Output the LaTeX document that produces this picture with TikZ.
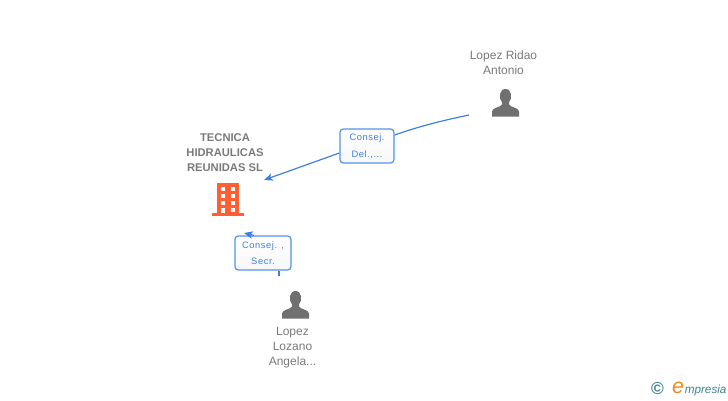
\documentclass[tikz,border=0pt]{standalone}
\usepackage{fontspec}
\setmainfont{Liberation Sans}
\newfontfamily\boxfont[LetterSpace=6]{Liberation Sans}
\usepackage{tikz}
\usetikzlibrary{%
  arrows.meta%
  ,calc%
  ,positioning%
}
\definecolor{linkblue}{HTML}{3F80DE}
\definecolor{boxblue}{HTML}{5593E8}
\definecolor{textgray}{HTML}{7A7A7A}
\definecolor{icongray}{HTML}{707070}
\definecolor{brickred}{HTML}{FF5F33}
\definecolor{logoteal}{HTML}{3E8296}
\definecolor{logoorange}{HTML}{F08A1E}
\tikzset{%
  link/.style={color=linkblue,line width=.9pt},
  tip/.style={-{Stealth[length=6.5pt,width=5.5pt,inset=1.5pt]}},
  role/.style={draw=boxblue,line width=.95pt,rounded corners=2.5pt,top color=white,bottom color=black!3,
    text=linkblue,font=\boxfont\fontsize{7}{12.5}\selectfont,align=center,inner sep=0pt},
  who/.style={text=textgray,font=\fontsize{9}{11.25}\selectfont,align=center,inner sep=0pt},
  firm/.style={who,font=\bfseries\fontsize{8.4}{11.25}\selectfont},
  person/.pic={
    \fill[icongray] (-13.5,14) -- (-13.5,9) .. controls (-13.5,5) and (-5,5) .. (-3.5,2)
      -- (-3.5,0) .. controls (-7,-4) and (-6.5,-13.5) .. (0,-13.5)
      .. controls (6.5,-13.5) and (7,-4) .. (3.5,0) -- (3.5,2)
      .. controls (5,5) and (13.5,5) .. (13.5,9) -- (13.5,14) -- cycle;
  },
  building/.pic={
    \fill[brickred] (-11,-16.5) rectangle (11,15);
    \fill[brickred] (-16,13) rectangle (16,16);
    \foreach \y in {-13,-6,1}{
      \fill[white] (-7,\y) rectangle (-3,\y+4);
      \fill[white] (3,\y) rectangle (7,\y+4);
    }
    \fill[white] (-7,8) rectangle (-3,13);
    \fill[white] (3,8) rectangle (7,12);
  },
}
\begin{document}
\begin{tikzpicture}[x=.75pt,y=-.75pt]
  \useasboundingbox (0,0) rectangle (728,400);
  \coordinate (ridaoend) at (469,115);
  \coordinate (firmend) at (264,180);
  \coordinate (lozanoend) at (279,276);
  \coordinate (secrend) at (244,233);
  \node[role,minimum width=40.5pt,minimum height=25.5pt] (delbox) at (367,146) {Consej.\\Del.,...};
  \node[role,minimum width=42pt,minimum height=25.5pt] (secrbox) at (263,253) {Consej. ,\\Secr.};
  \draw[link] (ridaoend) .. controls (445,120) and (420,126) .. ($(delbox.east)+(0,-11)$);
  \draw[link,tip] ($(delbox.west)+(0,7)$) -- (firmend);
  \draw[link] (lozanoend) -- (lozanoend |- secrbox.south);
  \draw[link,tip] ($(secrbox.north)+(-9,0)$) -- (secrend);
  %% people and the firm
  \node[who] (ridaoname) at (503.5,63) {Lopez Ridao\\Antonio};
  \pic at (505.5,102.5) {person};
  \node[firm] (firmname) at (225,153) {TECNICA\\HIDRAULICAS\\REUNIDAS SL};
  \pic at (228,199.5) {building};
  \pic at (295.5,304.5) {person};
  \node[who] (lozanoname) at (292.5,347.5) {Lopez\\Lozano\\Angela...};
  %% logo
  \node[inner sep=0pt,text=logoteal,font=\bfseries\fontsize{13}{13}\selectfont] (copy) at (657.5,389) {\textcopyright};
  \node[inner sep=0pt,text=logoorange,font=\itshape\fontsize{16}{16}\selectfont] (logoe) at (678,388) {e};
  \node[inner sep=0pt,text=logoteal,font=\itshape\fontsize{8.8}{9}\selectfont,anchor=west] (logotext) at (684.5,390) {mpresia};
\end{tikzpicture}
\end{document}
